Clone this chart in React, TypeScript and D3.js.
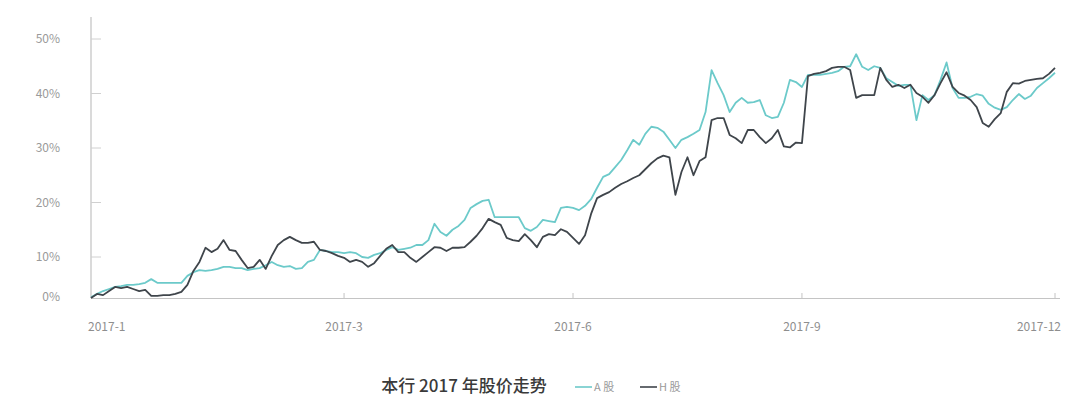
import { useRef, useEffect } from 'react';
import * as d3 from 'd3';

// 本行 2017 年股价走势 — cumulative change vs. start of year (%)
const A_SHARE = [
  0.2, 1.0, 1.7, 2.2, 2.7, 2.9, 3.2, 3.2, 3.4, 3.7,
  4.6, 3.7, 3.7, 3.7, 3.7, 3.7, 5.4, 6.3, 6.8, 6.6,
  6.8, 7.1, 7.6, 7.6, 7.3, 7.3, 6.8, 7.1, 7.3, 8.0,
  8.8, 8.0, 7.6, 7.8, 7.1, 7.3, 8.8, 9.3, 11.3, 11.1,
  10.9, 10.9, 10.7, 10.9, 10.7, 10.0, 9.8, 10.4, 10.7, 11.3,
  11.8, 11.3, 11.5, 11.7, 12.2, 12.2, 13.1, 16.1, 14.6, 13.9,
  15.0, 15.7, 16.8, 19.0, 19.7, 20.3, 20.5, 17.3, 17.3, 17.3,
  17.3, 17.3, 15.3, 14.8, 15.5, 16.8, 16.6, 16.4, 19.0, 19.2,
  19.0, 18.6, 19.4, 20.6, 22.7, 24.7, 25.2, 26.5, 27.8, 29.6,
  31.5, 30.6, 32.6, 33.9, 33.7, 33.0, 31.5, 30.0, 31.5, 32.0,
  32.6, 33.3, 36.6, 44.3, 41.9, 39.7, 36.6, 38.3, 39.2, 38.3,
  38.4, 38.8, 36.0, 35.5, 35.7, 38.3, 42.5, 42.1, 41.2, 43.4,
  43.4, 43.4, 43.6, 43.8, 44.1, 44.9, 45.0, 47.2, 44.9, 44.3,
  45.0, 44.7, 42.8, 42.1, 41.4, 41.6, 41.6, 35.1, 39.7, 38.8,
  39.7, 42.5, 45.7, 41.0, 39.2, 39.2, 39.4, 39.9, 39.6, 38.1,
  37.4, 37.0, 37.5, 38.8, 39.9, 39.0, 39.6, 41.0, 41.9, 42.8,
  43.8,
];

const H_SHARE = [
  0.0, 1.0, 0.7, 1.7, 2.7, 2.4, 2.7, 2.2, 1.7, 2.0,
  0.5, 0.5, 0.7, 0.7, 1.0, 1.5, 3.2, 6.6, 8.8, 11.7,
  10.9, 11.5, 13.1, 11.3, 11.1, 9.3, 7.3, 7.6, 9.3, 7.1,
  10.2, 12.2, 13.1, 13.7, 13.1, 12.6, 12.6, 12.8, 11.3, 11.1,
  10.7, 10.2, 9.8, 8.8, 9.3, 8.8, 7.6, 8.5, 10.2, 11.5,
  12.2, 10.9, 10.9, 9.8, 8.8, 10.0, 10.9, 11.8, 11.7, 11.1,
  11.7, 11.7, 11.8, 12.8, 13.9, 15.3, 17.0, 16.4, 15.9, 13.5,
  13.1, 12.9, 14.2, 13.1, 11.8, 13.7, 14.2, 14.0, 15.1, 14.6,
  13.5, 12.4, 14.0, 17.9, 20.8, 21.4, 21.9, 22.7, 23.4, 23.9,
  24.5, 25.0, 26.1, 27.2, 28.1, 28.6, 28.3, 21.4, 25.6, 28.3,
  25.0, 27.6, 28.3, 35.1, 35.5, 35.5, 32.4, 31.8, 30.9, 33.3,
  33.3, 32.0, 30.9, 31.8, 33.3, 30.3, 30.1, 31.0, 30.9, 43.2,
  43.6, 43.8, 44.1, 44.7, 44.9, 44.9, 44.3, 39.2, 39.7, 39.7,
  39.7, 44.7, 42.5, 41.2, 41.6, 41.0, 41.6, 40.1, 39.4, 38.3,
  39.7, 41.9, 43.9, 41.2, 40.1, 39.6, 38.8, 37.5, 34.6, 33.9,
  35.3, 36.4, 40.3, 41.9, 41.8, 42.3, 42.5, 42.7, 42.8, 43.6,
  44.7,
];

const X_TICK_LABELS = ['2017-1', '2017-3', '2017-6', '2017-9', '2017-12'];
const X_TICK_INDEX = [0, 42, 80, 118, 160];
const Y_TICKS = [0, 10, 20, 30, 40, 50];

const SERIES = [
  { name: 'A 股', values: A_SHARE, color: '#6ccaca' },
  { name: 'H 股', values: H_SHARE, color: '#3f454b' },
];

const FONT = '"Noto Sans CJK SC", "Noto Sans", sans-serif';

export default function App() {
  const svgRef = useRef<SVGSVGElement>(null);

  useEffect(() => {
    if (!svgRef.current) return;
    const svg = d3.select(svgRef.current);
    svg.selectAll('*').remove();

    const left = 91;
    const right = 1055;
    const bottom = 298;

    const x = d3.scaleLinear().domain([0, A_SHARE.length - 1]).range([left, right]);
    // the 0–10% band is drawn compressed in the original
    const y = d3.scaleLinear().domain([0, 10, 50]).range([bottom, 257, 39]);

    // axes
    svg.append('line')
      .attr('x1', left).attr('x2', left).attr('y1', 17).attr('y2', bottom)
      .attr('stroke', '#b5b5b5').attr('stroke-width', 1);
    svg.append('line')
      .attr('x1', left).attr('x2', 1060).attr('y1', bottom + 0.5).attr('y2', bottom + 0.5)
      .attr('stroke', '#c4c4c4').attr('stroke-width', 1.2);

    Y_TICKS.forEach(t => {
      if (t > 0) {
        svg.append('line')
          .attr('x1', left).attr('x2', left + 10)
          .attr('y1', y(t)).attr('y2', y(t))
          .attr('stroke', '#d0d0d0');
      }
      svg.append('text')
        .attr('x', 60).attr('y', t === 0 ? y(t) - 1 : y(t))
        .attr('dy', '0.35em')
        .attr('text-anchor', 'end')
        .attr('font-family', FONT)
        .attr('font-size', 12)
        .attr('fill', '#9a9a9a')
        .text(`${t}%`);
    });

    X_TICK_INDEX.forEach((idx, i) => {
      const px = x(idx);
      if (i > 0) {
        svg.append('line')
          .attr('x1', px).attr('x2', px).attr('y1', bottom - 5).attr('y2', bottom)
          .attr('stroke', '#c4c4c4');
      }
      const last = i === X_TICK_INDEX.length - 1;
      svg.append('text')
        .attr('x', i === 0 ? px - 3 : last ? px + 6 : px)
        .attr('y', 331)
        .attr('text-anchor', i === 0 ? 'start' : last ? 'end' : 'middle')
        .attr('font-family', FONT)
        .attr('font-size', 12)
        .attr('fill', '#8e8e8e')
        .text(X_TICK_LABELS[i]);
    });

    const line = d3.line<number>()
      .x((_, i) => x(i))
      .y(d => y(d));

    SERIES.forEach(s => {
      svg.append('path')
        .datum(s.values)
        .attr('d', line)
        .attr('fill', 'none')
        .attr('stroke', s.color)
        .attr('stroke-width', 1.8)
        .attr('stroke-linejoin', 'round');
    });

    // title + legend
    svg.append('text')
      .attr('x', 464).attr('y', 392)
      .attr('text-anchor', 'middle')
      .attr('font-family', FONT)
      .attr('font-size', 17)
      .attr('font-weight', 500)
      .attr('fill', '#3a3a3a')
      .text('本行 2017 年股价走势');

    const legendX = [575, 640];
    SERIES.forEach((s, i) => {
      const lx = legendX[i];
      svg.append('line')
        .attr('x1', lx).attr('x2', lx + 17).attr('y1', 387).attr('y2', 387)
        .attr('stroke', s.color).attr('stroke-width', 1.6);
      svg.append('text')
        .attr('x', lx + 19).attr('y', 391)
        .attr('font-family', FONT)
        .attr('font-size', 11)
        .attr('fill', '#9a9a9a')
        .text(s.name);
    });
  }, []);

  return (
    <svg
      ref={svgRef}
      width={1065}
      height={403}
      style={{ position: 'absolute', left: 0, top: 0, background: '#fff' }}
    />
  );
}
